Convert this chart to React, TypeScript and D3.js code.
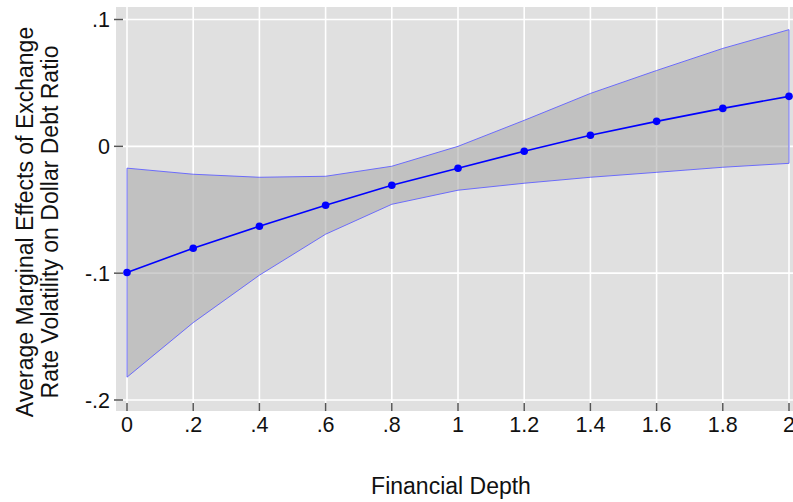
import React from "react";
import * as d3 from "d3";

const xValues = [0, 0.2, 0.4, 0.6, 0.8, 1.0, 1.2, 1.4, 1.6, 1.8, 2.0];
const meanValues = [-0.0995, -0.0803, -0.063, -0.0465, -0.0307, -0.0173, -0.0039, 0.0087, 0.0197, 0.0299, 0.0394];
const upperValues = [-0.0172, -0.022, -0.0244, -0.0236, -0.0157, 0.0, 0.0205, 0.0417, 0.0598, 0.0772, 0.092];
const lowerValues = [-0.182, -0.139, -0.1016, -0.0693, -0.0457, -0.0346, -0.0291, -0.0244, -0.0205, -0.0165, -0.0134];
const xTicks = [0, 0.2, 0.4, 0.6, 0.8, 1.0, 1.2, 1.4, 1.6, 1.8, 2.0];
const xTickLabels = ["0", ".2", ".4", ".6", ".8", "1", "1.2", "1.4", "1.6", "1.8", "2"];
const yTicks = [0.1, 0, -0.1, -0.2];
const yTickLabels = [".1", "0", "-.1", "-.2"];

const W = 793;
const H = 502;
const FONT = "Liberation Sans, Arial, sans-serif";

export default function App() {
  const x = d3.scaleLinear().domain([0, 2]).range([127, 789]);
  const y = d3.scaleLinear().domain([-0.2, 0.1]).range([400, 19.5]);

  const pts = xValues.map((v, i) => ({ x: v, m: meanValues[i], lo: lowerValues[i], hi: upperValues[i] }));
  const area = d3
    .area<typeof pts[0]>()
    .x((d) => x(d.x))
    .y0((d) => y(d.lo))
    .y1((d) => y(d.hi));
  const bandPath =
    "M" +
    pts.map((d) => `${x(d.x)},${y(d.hi)}`).join("L") +
    "L" +
    pts
      .slice()
      .reverse()
      .map((d) => `${x(d.x)},${y(d.lo)}`)
      .join("L") +
    "Z";
  const line = d3
    .line<typeof pts[0]>()
    .x((d) => x(d.x))
    .y((d) => y(d.m));

  const plotLeft = 116;
  const plotTop = 7;
  const plotBottom = 411;

  return (
    <div style={{ position: "absolute", left: 0, top: 0 }}>
      <svg width={W} height={H} style={{ display: "block" }}>
        <rect x={0} y={0} width={W} height={H} fill="#ffffff" />
        <rect x={plotLeft} y={plotTop} width={W - plotLeft} height={plotBottom - plotTop} fill="#e0e0e0" />
        {xTicks.map((t) => (
          <line key={"gx" + t} x1={x(t)} x2={x(t)} y1={plotTop} y2={plotBottom} stroke="#ffffff" strokeWidth={1.6} />
        ))}
        {yTicks.map((t) => (
          <line key={"gy" + t} x1={plotLeft} x2={W} y1={y(t)} y2={y(t)} stroke="#ffffff" strokeWidth={1.6} />
        ))}
        <path d={area(pts) || ""} fill="#a8a8a8" fillOpacity={0.55} stroke="none" />
        <path d={bandPath} fill="none" stroke="#6060ff" strokeWidth={0.9} />
        <path d={line(pts) || ""} fill="none" stroke="#0000ff" strokeWidth={1.6} />
        {pts.map((d, i) => (
          <circle key={"c" + i} cx={x(d.x)} cy={y(d.m)} r={3.8} fill="#0000ff" />
        ))}
        {yTicks.map((t, i) => (
          <g key={"yt" + t}>
            <line x1={114} x2={123} y1={y(t)} y2={y(t)} stroke="#555555" strokeWidth={1.5} />
            <text x={110} y={y(t)} dy="0.36em" textAnchor="end" fontFamily={FONT} fontSize={21.5} fill="#111">
              {yTickLabels[i]}
            </text>
          </g>
        ))}
        {xTicks.map((t, i) => (
          <g key={"xt" + t}>
            <line x1={x(t)} x2={x(t)} y1={403} y2={411} stroke="#555555" strokeWidth={1.5} />
            <text x={x(t)} y={432} textAnchor="middle" fontFamily={FONT} fontSize={21.5} fill="#111">
              {xTickLabels[i]}
            </text>
          </g>
        ))}
        <text x={451} y={494} textAnchor="middle" fontFamily={FONT} fontSize={23} fill="#111">
          Financial Depth
        </text>
        <g transform="translate(0,222) rotate(-90)">
          <text x={0} y={33} textAnchor="middle" fontFamily={FONT} fontSize={23} fill="#111">
            Average Marginal Effects of Exchange
          </text>
          <text x={0} y={58} textAnchor="middle" fontFamily={FONT} fontSize={23} fill="#111">
            Rate Volatility on Dollar Debt Ratio
          </text>
        </g>
      </svg>
    </div>
  );
}
